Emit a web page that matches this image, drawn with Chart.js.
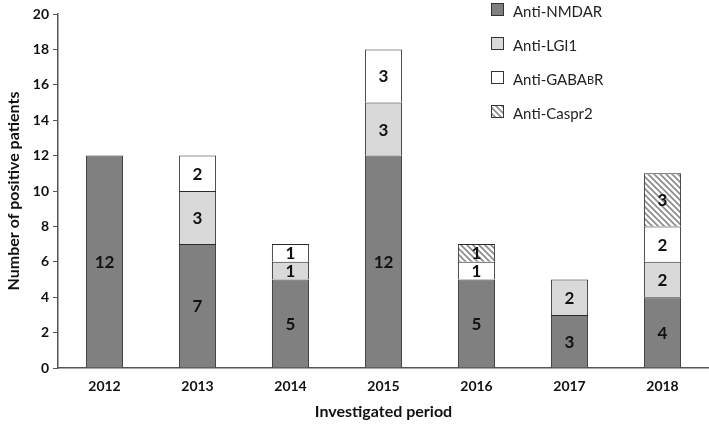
<!DOCTYPE html>
<html>
<head>
<meta charset="utf-8">
<script src="https://cdn.jsdelivr.net/npm/chart.js@4"></script>
<style>
  html, body { margin: 0; padding: 0; background: #fff; }
  #wrap { width: 709px; height: 425px; position: relative; }
</style>
</head>
<body>
<div id="wrap"><canvas id="chart"></canvas></div>
<script>
        const years = ['2012', '2013', '2014', '2015', '2016', '2017', '2018'];
        const nmdar = [12, 7, 5, 12, 5, 3, 4];
        const lgi1 = [0, 3, 1, 3, 0, 2, 2];
        const gabab = [0, 2, 1, 3, 1, 0, 2];
        const caspr2 = [0, 0, 0, 0, 1, 0, 3];
        const yTicks = [0, 2, 4, 6, 8, 10, 12, 14, 16, 18, 20];

        const fontName = 'Lato, "Open Sans", sans-serif';

        function makeHatch() {
            const c = document.createElement('canvas');
            c.width = 6;
            c.height = 6;
            const g = c.getContext('2d');
            g.fillStyle = '#ffffff';
            g.fillRect(0, 0, 6, 6);
            g.strokeStyle = '#8a8a8a';
            g.lineWidth = 1.6;
            g.beginPath();
            g.moveTo(-1, -1); g.lineTo(7, 7);
            g.moveTo(-4, 2); g.lineTo(2, 8);
            g.moveTo(2, -4); g.lineTo(8, 2);
            g.stroke();
            return g.createPattern(c, 'repeat');
        }

        const hatch = makeHatch();

        // numbers in the middle of each segment
        const segmentLabels = {
            id: 'segmentLabels',
            afterDatasetsDraw(chart) {
                const ctx = chart.ctx;
                ctx.save();
                ctx.font = 'bold 17px ' + fontName;
                ctx.fillStyle = '#111';
                ctx.textAlign = 'center';
                ctx.textBaseline = 'middle';
                chart.data.datasets.forEach((ds, i) => {
                    const meta = chart.getDatasetMeta(i);
                    meta.data.forEach((bar, j) => {
                        const v = ds.data[j];
                        if (!v) return;
                        ctx.fillText(String(v), bar.x, (bar.y + bar.base) / 2 + 1);
                    });
                });
                ctx.restore();
            }
        };

        // legend drawn in the upper right corner
        const cornerLegend = {
            id: 'cornerLegend',
            afterDraw(chart) {
                const ctx = chart.ctx;
                ctx.save();
                chart.data.datasets.forEach((ds, i) => {
                    const cy = 9 + i * 34;
                    ctx.fillStyle = ds.backgroundColor;
                    ctx.fillRect(491, cy - 6, 12, 12);
                    ctx.strokeStyle = '#333';
                    ctx.lineWidth = 1;
                    ctx.strokeRect(491.5, cy - 5.5, 12, 12);
                    ctx.fillStyle = '#222';
                    ctx.textBaseline = 'middle';
                    ctx.textAlign = 'left';
                    let x = 513;
                    const parts = ds.labelParts || [[ds.label, 15]];
                    parts.forEach(p => {
                        ctx.font = p[1] + 'px ' + fontName;
                        ctx.fillText(p[0], x, cy + 3);
                        x += ctx.measureText(p[0]).width;
                    });
                });
                ctx.restore();
            }
        };

        const border = '#2a2a2a';

        new Chart(document.getElementById('chart'), {
            type: 'bar',
            data: {
                labels: years,
                datasets: [
                    { label: 'Anti-NMDAR', data: nmdar, backgroundColor: '#808080', borderColor: border, borderWidth: 1 },
                    { label: 'Anti-LGI1', data: lgi1, backgroundColor: '#d9d9d9', borderColor: border, borderWidth: 1 },
                    { label: 'Anti-GABABR', labelParts: [['Anti-GABA', 15], ['B', 11], ['R', 15]], data: gabab, backgroundColor: '#ffffff', borderColor: border, borderWidth: 1 },
                    { label: 'Anti-Caspr2', data: caspr2, backgroundColor: hatch, borderColor: border, borderWidth: 1 }
                ]
            },
            options: {
                responsive: true,
                maintainAspectRatio: false,
                animation: false,
                layout: { padding: { top: 14, right: 0, left: 0, bottom: 0 } },
                datasets: { bar: { barPercentage: 0.4, categoryPercentage: 1 } },
                plugins: {
                    legend: { display: false },
                    tooltip: { enabled: false }
                },
                scales: {
                    x: {
                        stacked: true,
                        grid: { display: false, drawTicks: false },
                        border: { color: '#555', width: 1.5 },
                        ticks: { color: '#111', font: { family: fontName, size: 14, weight: 'bold' }, padding: 10 },
                        title: { display: true, text: 'Investigated period', color: '#111', font: { family: fontName, size: 16, weight: 'bold' }, padding: { top: 4 } },
                        afterFit(s) { s.height = 57; }
                    },
                    y: {
                        stacked: true,
                        min: 0,
                        max: 20,
                        afterBuildTicks(s) { s.ticks = yTicks.map(v => ({ value: v })); },
                        grid: { display: true, drawOnChartArea: false, drawTicks: true, tickLength: 5, color: '#555' },
                        border: { color: '#555', width: 1.5 },
                        ticks: { color: '#111', font: { family: fontName, size: 14, weight: 'bold' }, padding: 4 },
                        title: { display: true, text: 'Number of positive patients', color: '#111', font: { family: fontName, size: 16, weight: 'bold' }, padding: { bottom: 3 } },
                        afterFit(s) { s.width = 58; }
                    }
                }
            },
            plugins: [segmentLabels, cornerLegend]
        });
</script>
</body>
</html>
